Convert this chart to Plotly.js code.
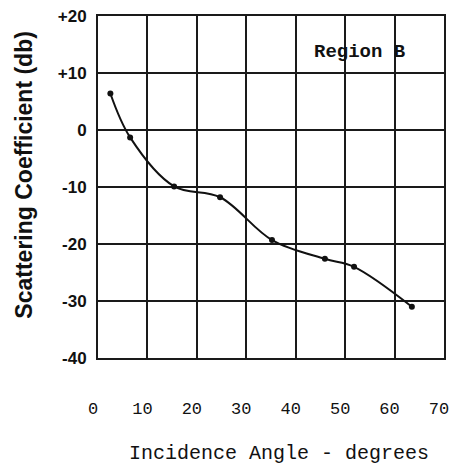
<!DOCTYPE html>
<html>
<head>
<meta charset="utf-8">
<script src="https://cdn.plot.ly/plotly-3.0.1.min.js"></script>
<style>html,body{margin:0;padding:0;background:#fff;}#plot{width:452px;height:465px;}</style>
</head>
<body>
<div id="plot"></div>
<script>
// Data
const incidenceAngle = [2.5, 6.5, 15.4, 24.7, 35.2, 45.9, 51.8, 63.5];
const scatteringCoef = [6.4, -1.3, -9.9, -11.8, -19.3, -22.6, -24.0, -31.0];
const xTickVals = [0, 10, 20, 30, 40, 50, 60, 70];
const xTickText = ['0', '10', '20', '30', '40', '50', '60', '70'];
const yTickVals = [20, 10, 0, -10, -20, -30, -40];
const yTickText = ['+20', '+10', '0', '-10', '-20', '-30', '-40'];

const trace = {
  x: incidenceAngle,
  y: scatteringCoef,
  mode: 'lines+markers',
  line: {shape: 'spline', smoothing: 1.0, color: '#111', width: 2},
  marker: {size: 6, color: '#111'},
  showlegend: false,
  hoverinfo: 'skip'
};

const layout = {
  width: 452,
  height: 465,
  margin: {l: 98, r: 8, t: 16, b: 107},
  paper_bgcolor: '#ffffff',
  plot_bgcolor: '#ffffff',
  showlegend: false,
  xaxis: {
    range: [0, 70],
    tickvals: xTickVals,
    ticktext: xTickText,
    showgrid: true,
    gridcolor: '#1a1a1a',
    gridwidth: 2,
    zeroline: false,
    showline: true,
    linecolor: '#1a1a1a',
    linewidth: 2,
    mirror: true,
    ticks: '',
    ticklabelstandoff: 34,
    ticklabelshift: -5,
    ticklabeloverflow: 'allow',
    tickfont: {family: 'Liberation Mono, Courier New, monospace', size: 17, color: '#111'}
  },
  yaxis: {
    range: [-40, 20],
    tickvals: yTickVals,
    ticktext: yTickText,
    showgrid: true,
    gridcolor: '#1a1a1a',
    gridwidth: 2,
    zeroline: false,
    showline: true,
    linecolor: '#1a1a1a',
    linewidth: 2,
    mirror: true,
    ticks: '',
    ticklabelstandoff: 6,
    tickfont: {family: 'Liberation Sans, Arial, sans-serif', size: 17, color: '#111', weight: 'bold'}
  },
  annotations: [
    {
      text: 'Region B', xref: 'x', yref: 'y', x: 52.9, y: 13.7,
      xanchor: 'center', yanchor: 'middle',
      showarrow: false,
      font: {family: 'Liberation Mono, Courier New, monospace', size: 19, color: '#111', weight: 'bold'}
    },
    {
      text: 'Scattering Coefficient (db)', xref: 'paper', yref: 'paper',
      x: -0.215, y: 0.535, xanchor: 'center', yanchor: 'middle',
      textangle: -90, showarrow: false,
      font: {family: 'Liberation Sans, Arial, sans-serif', size: 23, color: '#111', weight: 'bold'}
    },
    {
      text: 'Incidence Angle - degrees', xref: 'paper', yref: 'paper',
      x: 0.522, y: -0.278, xanchor: 'center', yanchor: 'middle',
      showarrow: false,
      font: {family: 'Liberation Mono, Courier New, monospace', size: 20, color: '#111'}
    }
  ]
};

Plotly.newPlot('plot', [trace], layout, {displayModeBar: false, staticPlot: true});
</script>
</body>
</html>
